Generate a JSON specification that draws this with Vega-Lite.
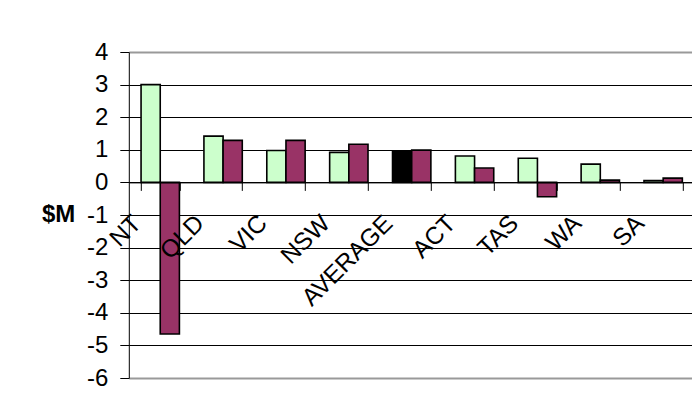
{
  "$schema": "https://vega.github.io/schema/vega-lite/v6.json",
  "width": 563.2,
  "height": 326,
  "autosize": {"type": "none"},
  "padding": {"left": 128.8, "top": 52, "right": 0, "bottom": 16},
  "background": "white",
  "config": {
    "view": {"stroke": null},
    "font": "Liberation Sans",
    "axis": {"labelFont": "Liberation Sans", "titleFont": "Liberation Sans", "labelColor": "black", "titleColor": "black"}
  },
  "data": {
    "values": [
      {"state": "NT", "series": "Series 1", "value": 3.0},
      {"state": "NT", "series": "Series 2", "value": -4.65},
      {"state": "QLD", "series": "Series 1", "value": 1.42},
      {"state": "QLD", "series": "Series 2", "value": 1.29},
      {"state": "VIC", "series": "Series 1", "value": 0.98},
      {"state": "VIC", "series": "Series 2", "value": 1.29},
      {"state": "NSW", "series": "Series 1", "value": 0.92},
      {"state": "NSW", "series": "Series 2", "value": 1.17},
      {"state": "AVERAGE", "series": "Series 1", "value": 0.94},
      {"state": "AVERAGE", "series": "Series 2", "value": 0.99},
      {"state": "ACT", "series": "Series 1", "value": 0.81},
      {"state": "ACT", "series": "Series 2", "value": 0.44},
      {"state": "TAS", "series": "Series 1", "value": 0.74},
      {"state": "TAS", "series": "Series 2", "value": -0.44},
      {"state": "WA", "series": "Series 1", "value": 0.56},
      {"state": "WA", "series": "Series 2", "value": 0.07},
      {"state": "SA", "series": "Series 1", "value": 0.06},
      {"state": "SA", "series": "Series 2", "value": 0.13}
    ]
  },
  "mark": {"type": "bar", "stroke": "black", "strokeWidth": 1.6},
  "encoding": {
    "x": {
      "field": "state",
      "type": "nominal",
      "sort": ["NT", "QLD", "VIC", "NSW", "AVERAGE", "ACT", "TAS", "WA", "SA"],
      "scale": {"range": [0, 565.8], "paddingInner": 0.39, "paddingOuter": 0.195},
      "axis": {
        "orient": "bottom",
        "offset": -195.6,
        "title": null,
        "grid": false,
        "domain": true,
        "domainColor": "black",
        "domainWidth": 1,
        "ticks": true,
        "tickBand": "extent",
        "tickSize": 8,
        "tickColor": "black",
        "labelAngle": -45,
        "labelAlign": "right",
        "labelBaseline": "middle",
        "labelOffset": -23,
        "labelPadding": 29,
        "labelFontSize": 24.5,
        "labelOverlap": false,
        "labelBound": false,
        "zindex": 1
      }
    },
    "xOffset": {
      "field": "series",
      "type": "nominal",
      "sort": ["Series 1", "Series 2"],
      "scale": {"paddingInner": 0, "paddingOuter": 0}
    },
    "y": {
      "field": "value",
      "type": "quantitative",
      "scale": {"domain": [-6, 4], "nice": false, "zero": false},
      "axis": {
        "values": [-6, -5, -4, -3, -2, -1, 0, 1, 2, 3, 4],
        "labelExpr": "datum.value < 0 ? '-' + abs(datum.value) : '' + datum.value",
        "grid": true,
        "gridColor": {"condition": {"test": "datum.value === 4 || datum.value === -6", "value": "#999999"}, "value": "black"},
        "gridWidth": {"condition": {"test": "datum.value === 4 || datum.value === -6", "value": 2}, "value": 1},
        "domain": true,
        "domainColor": "black",
        "tickSize": 9,
        "tickColor": "black",
        "labelPadding": 12,
        "labelFontSize": 24,
        "labelFlush": false,
        "labelOverlap": false,
        "title": "$M",
        "titleAngle": 0,
        "titleFontSize": 24,
        "titleFontWeight": "bold",
        "titleX": -54,
        "titleY": 162.5,
        "titleAlign": "right",
        "titleBaseline": "middle"
      }
    },
    "color": {
      "condition": {"test": "datum.state === 'AVERAGE' && datum.series === 'Series 1'", "value": "black"},
      "field": "series",
      "type": "nominal",
      "scale": {"domain": ["Series 1", "Series 2"], "range": ["#CCFFCC", "#993366"]},
      "legend": null
    }
  }
}
